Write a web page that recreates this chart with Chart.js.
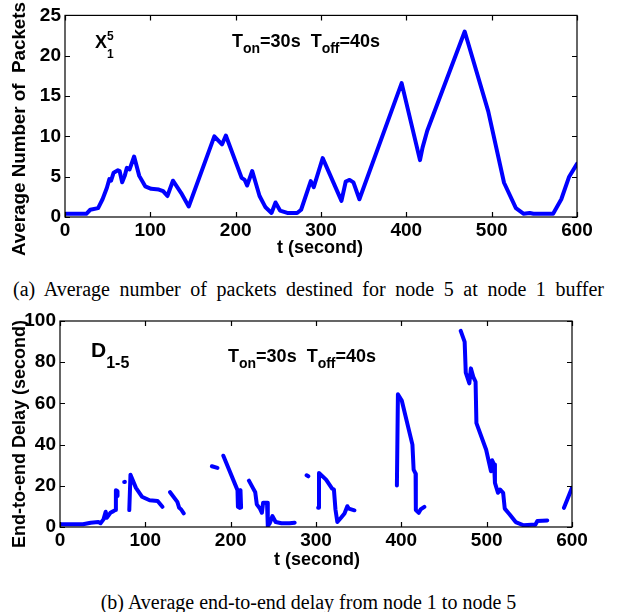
<!DOCTYPE html>
<html>
<head>
<meta charset="utf-8">
<script src="https://cdn.jsdelivr.net/npm/chart.js@4.4.1/dist/chart.umd.min.js"></script>
<style>
  body { margin: 0; background: #fff; width: 617px; height: 612px; overflow: hidden; position: relative; }
  .plot { position: absolute; left: 0; width: 617px; }
  .cap { position: absolute; left: 0; width: 617px; text-align: center; font: 20px "Liberation Serif", serif; color: #000; line-height: 22px; white-space: nowrap; }
</style>
</head>
<body>
<div class="plot" style="top:0;height:265px"><canvas id="c-packets"></canvas></div>
<div class="cap" style="top:278px;word-spacing:4.6px">(a) Average number of packets destined for node 5 at node 1 buffer</div>
<div class="plot" style="top:300px;height:280px"><canvas id="c-delay"></canvas></div>
<div class="cap" style="top:591px">(b) Average end-to-end delay from node 1 to node 5</div>
<script>
// (a) 노드1 버퍼의 평균 패킷 수
const packetT = [0, 25, 29.6, 38.8, 44, 49, 52, 54, 57, 62, 64, 67, 70, 72.5, 75.7, 81, 87, 94, 101, 110, 115, 120, 126.5, 136, 145,
  175, 184, 188.5, 207, 210.6, 213.4, 219.4, 228, 235, 242, 246.7, 252, 260.5, 272, 276.7, 288, 291.5, 302, 324, 329, 333.5, 338, 345,
  394.5, 416, 419, 424.5, 468.4, 496, 514.5, 528.4, 537.6, 544.6, 549, 572, 581.6, 590.8, 600];
const packetY = [0.4, 0.4, 0.9, 1.1, 2.2, 3.6, 4.7, 4.5, 5.5, 5.8, 5.7, 4.3, 5.1, 6.1, 5.9, 7.5, 5.1, 3.8, 3.5, 3.4, 3.2, 2.6, 4.5, 3.0, 1.3,
  10.0, 9.0, 10.1, 4.85, 4.6, 3.9, 5.7, 2.6, 1.2, 0.5, 1.8, 0.8, 0.5, 0.5, 0.9, 4.45, 3.7, 7.3, 2.0, 4.4, 4.6, 4.3, 2.2,
  16.6, 7.05, 8.6, 10.7, 23.0, 13.1, 4.25, 1.1, 0.4, 0.5, 0.4, 0.4, 2.2, 5.0, 6.6];

// (b) 종단간 지연 — null = 끊긴 구간
const delayT = [0, 27, 36, 45, 47.5, 51, 53.5, 55, 59, 62.7, 64.6, 65.5, 67.3, 67.4, 70,
  75.2, 76, 78,
  81.2, 82.6, 89, 96, 105, 114.4, 120, 125,
  129, 137.5, 139.7, 142, 145, 160,
  178, 184.5, 188,
  191.4, 208, 208.5, 210.5, 211.5, 212.2, 218,
  221.4, 226, 228.8, 230.6, 234.3, 236.6, 238, 242.6, 243.5, 245.8, 249, 252.7, 259.6, 268.9, 275, 282,
  289, 291, 296,
  302.5, 303.5, 311.8, 318.7, 321, 322.8, 325, 329.3, 333.4, 336.7, 338.5, 345, 370,
  394.8, 396, 400.5, 413, 414.4, 416.7, 417, 420.4, 422.6, 427, 450,
  469.6, 474.2, 475.5, 479.7, 481.5, 484.3, 487, 488, 499.4, 505, 506.4, 508.7, 509.7, 513.3, 515.6, 519.3, 521.2, 527, 534, 543.3, 552.5, 557, 559.4, 571, 580,
  590.6, 600];
const delayY = [1.3, 1.3, 2.1, 2.4, 1.8, 3.7, 7.4, 4.5, 6.9, 7.7, 8.2, 17.9, 17.4, 15, null,
  21.8, 22, null,
  8.2, 25.4, 19, 14.7, 13, 12.6, 9.8, null,
  16.9, 12.2, 9.3, 8.5, 6.6, null,
  29.5, 28.7, null,
  34.6, 17.9, 9.8, 9.3, 17.9, 9.5, null,
  22.5, 19, 16.9, 11, 8.9, 6.9, 11.8, 11.8, 0.5, 1.8, 5.3, 2.4, 1.8, 1.8, 2.1, null,
  25.1, 24.6, null,
  9.3, 26.2, 23, 18.7, 18.2, 8.5, 2.4, 4.5, 6.6, 10.1, 8.9, 8.1, null,
  20.1, 64.4, 61.4, 40, 27.9, 25.9, 8.2, 6.9, 8.5, 9.8, null,
  95.2, 89.9, 74.9, 69.7, 77, 72.9, 70.5, 50.4, 37.5, 27.1, 32.4, 30.3, 21.4, 16.6, 18.2, 16.6, 8.9, 6.1, 2.4, 0.8, 1.1, 1.1, 2.9, 3.2, null,
  9.3, 19];

const xTicks = [0, 100, 200, 300, 400, 500, 600];
const packetTicks = [0, 5, 10, 15, 20, 25];
const delayTicks = [0, 20, 40, 60, 80, 100];

const SANS = '"Liberation Sans", Arial, sans-serif';
const BLUE = '#0000ff';

// 글자 조각들을 이어 그림 (아래첨자/위첨자용)
function drawRuns(ctx, x, base, runs) {
  let cx = x;
  runs.forEach(r => {
    ctx.font = `bold ${r.size}px ${SANS}`;
    ctx.fillText(r.t, cx, base + (r.dy || 0));
    if (!r.stay) cx += ctx.measureText(r.t).width;
  });
}

function tOnOff(x, y) {
  return { x, y, runs: [
    { t: 'T', size: 18 }, { t: 'on', size: 14, dy: 6 }, { t: '=30s  ', size: 18 },
    { t: 'T', size: 18 }, { t: 'off', size: 14, dy: 6 }, { t: '=40s', size: 18 },
  ] };
}

// 차트별 축 제목/주석 (plugin 옵션 대신 여기 보관)
const DECOR = {
  'c-packets': { yTicks: packetTicks, xTitle: [320, 248], yTitle: [20, 129], yLabel: 'Average Number of  Packets', ySize: 18.8,
    notes: [
      { x: 95, y: 48, runs: [{ t: 'X', size: 18 }, { t: '5', size: 12, dy: -8, stay: true }, { t: '1', size: 12, dy: 10 }] },
      tOnOff(232, 47),
    ] },
  'c-delay': { yTicks: delayTicks, xTitle: [317, 260], yTitle: [20, 134], yLabel: 'End-to-end Delay (second)', ySize: 18,
    notes: [
      { x: 91, y: 57, runs: [{ t: 'D', size: 21 }, { t: '1-5', size: 16, dy: 11 }] },
      tOnOff(228, 62),
    ] },
};

// MATLAB 스타일 프레임 + 안쪽 눈금 + 축 제목 + 주석
const framePlugin = {
  id: 'frame',
  afterDatasetsDraw(chart) {
    const o = DECOR[chart.canvas.id];
    const { ctx, chartArea: a, scales } = chart;
    ctx.save();
    ctx.strokeStyle = '#000'; ctx.lineWidth = 1.2;
    ctx.strokeRect(a.left, a.top, a.right - a.left, a.bottom - a.top);
    ctx.beginPath();
    const L = 5;
    xTicks.forEach(v => {
      const px = Math.round(scales.x.getPixelForValue(v)) + 0.5;
      ctx.moveTo(px, a.bottom); ctx.lineTo(px, a.bottom - L);
      ctx.moveTo(px, a.top); ctx.lineTo(px, a.top + L);
    });
    o.yTicks.forEach(v => {
      const py = Math.round(scales.y.getPixelForValue(v)) + 0.5;
      ctx.moveTo(a.left, py); ctx.lineTo(a.left + L, py);
      ctx.moveTo(a.right, py); ctx.lineTo(a.right - L, py);
    });
    ctx.stroke();

    ctx.fillStyle = '#000';
    ctx.textAlign = 'center'; ctx.textBaseline = 'middle';
    ctx.font = `bold 18px ${SANS}`;
    ctx.fillText('t (second)', o.xTitle[0], o.xTitle[1]);
    ctx.save();
    ctx.translate(o.yTitle[0], o.yTitle[1]); ctx.rotate(-Math.PI / 2);
    ctx.font = `bold ${o.ySize}px ${SANS}`;
    ctx.fillText(o.yLabel, 0, 0);
    ctx.restore();

    ctx.textAlign = 'left'; ctx.textBaseline = 'alphabetic';
    o.notes.forEach(n => drawRuns(ctx, n.x, n.y, n.runs));
    ctx.restore();
  }
};

function makeChart(id, xs, ys, yMax, yStep, pad, xH, yW) {
  const pts = xs.map((t, i) => ({ x: t, y: ys[i] }));
  const tickFont = { size: 19, weight: 'bold', family: SANS };
  return new Chart(document.getElementById(id), {
    type: 'line',
    data: { datasets: [{ data: pts, borderColor: BLUE, borderWidth: 4, pointRadius: 0, tension: 0, spanGaps: false, fill: false, borderJoinStyle: 'round', borderCapStyle: 'round' }] },
    options: {
      responsive: true, maintainAspectRatio: false, animation: false,
      layout: { padding: pad },
      plugins: { legend: { display: false }, tooltip: { enabled: false } },
      scales: {
        x: { type: 'linear', min: 0, max: 600,
          ticks: { stepSize: 100, font: tickFont, color: '#000', padding: 2, maxRotation: 0 },
          grid: { display: false, drawTicks: false }, border: { display: false },
          afterFit(s) { s.height = xH; } },
        y: { min: 0, max: yMax,
          ticks: { stepSize: yStep, font: tickFont, color: '#000', padding: 4 },
          grid: { display: false, drawTicks: false }, border: { display: false },
          afterFit(s) { s.width = yW; } },
      },
    },
    plugins: [framePlugin],
  });
}

makeChart('c-packets', packetT, packetY, 25, 5, { top: 12, right: 40, bottom: 0, left: 0 }, 48, 65);
makeChart('c-delay', delayT, delayY, 100, 20, { top: 21, right: 45, bottom: 0, left: 0 }, 53, 60);
</script>
</body>
</html>
